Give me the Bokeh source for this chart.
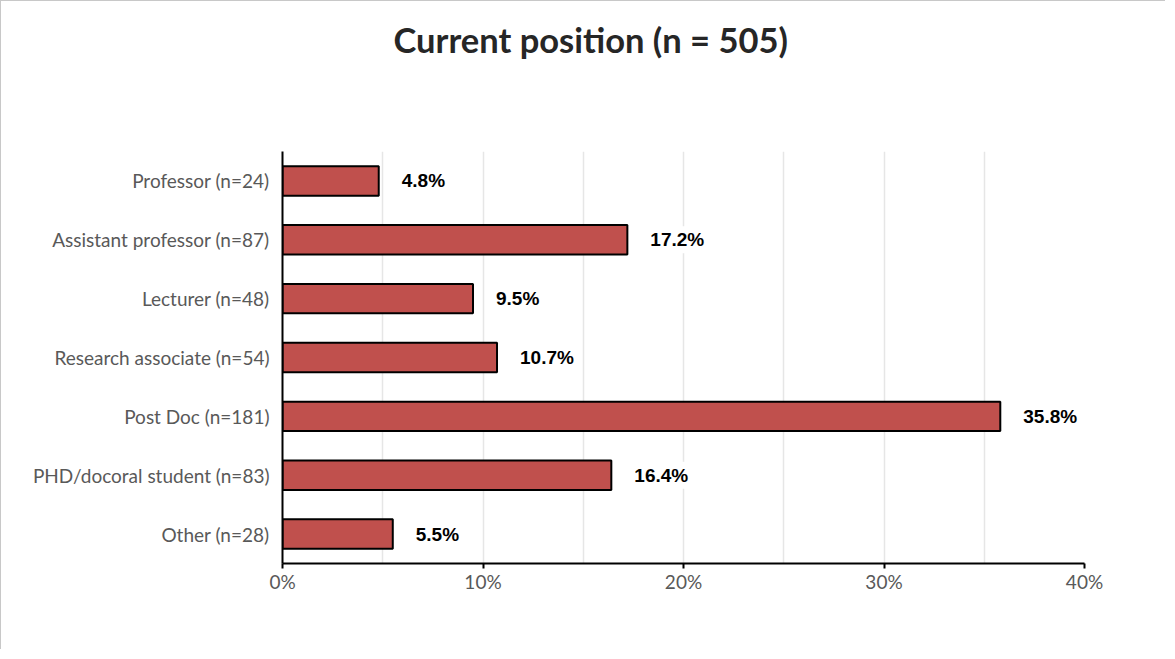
from bokeh.plotting import figure
from bokeh.models import FixedTicker, ColumnDataSource, Title
from bokeh.core.properties import value
from bokeh.embed import file_html
from bokeh.resources import INLINE

categories = ["Professor (n=24)", "Assistant professor (n=87)", "Lecturer (n=48)",
              "Research associate (n=54)", "Post Doc (n=181)",
              "PHD/docoral student (n=83)", "Other (n=28)"]
percent = [4.8, 17.2, 9.5, 10.7, 35.8, 16.4, 5.5]
x_ticks = [0, 10, 20, 30, 40]
x_tick_labels = ["0%", "10%", "20%", "30%", "40%"]
title_text = "Current position (n = 505)"

n = len(categories)
ypos = [n - 1 - i for i in range(n)]
src = ColumnDataSource(dict(y=ypos, v=percent, lab=[f"{v:.1f}%" for v in percent]))

W, H = 1165, 649
p = figure(width=W, height=H, output_backend="svg", toolbar_location=None,
           x_range=(0, 40), y_range=(-0.5, 6.5),
           min_border_left=281, min_border_right=W - 281 - 802,
           min_border_top=150, min_border_bottom=H - 150 - 412)
p.outline_line_color = None
p.background_fill_color = "white"
p.border_fill_color = "white"
p.styles = {"border-left": "1px solid #c8c8c8", "border-top": "1px solid #c8c8c8"}

p.title.text = title_text
p.title.align = "left"
p.title.vertical_align = "top"
p.title.offset = 111
p.title.standoff = 30
p.title.text_font = "Lato"
p.title.text_font_style = "bold"
p.title.text_font_size = "34.5px"
p.title.text_color = "#262626"

# empty spacer between title and plot area
p.add_layout(Title(text=" ", text_font_size="10px", standoff=62), "above")

p.hbar(y="y", left=0, right="v", height=0.5, source=src,
       fill_color="#c0504d", line_color="black", line_width=2)
p.text(x="v", y="y", text="lab", source=src, x_offset=20,
       text_baseline="middle", text_align="left",
       text_font=value("Liberation Sans"), text_font_style="bold",
       text_font_size="19px", text_color="black",
       background_fill_color="white", padding=3)

# x axis
xa = p.xaxis[0]
xa.ticker = FixedTicker(ticks=x_ticks)
xa.major_label_overrides = {t: l for t, l in zip(x_ticks, x_tick_labels)}
xa.axis_line_color = "black"
xa.axis_line_width = 2
xa.major_tick_line_color = "black"
xa.major_tick_line_width = 2
xa.major_tick_in = 0
xa.major_tick_out = 5
xa.minor_tick_line_color = None
xa.major_label_text_font = "Lato"
xa.major_label_text_font_size = "19px"
xa.major_label_text_color = "#595959"
xa.major_label_standoff = 1

# y axis
ya = p.yaxis[0]
ya.ticker = FixedTicker(ticks=ypos)
ya.major_label_overrides = {yy: c for yy, c in zip(ypos, categories)}
ya.axis_line_color = "black"
ya.axis_line_width = 2
ya.major_tick_line_color = None
ya.minor_tick_line_color = None
ya.major_label_text_font = "Lato"
ya.major_label_text_font_size = "19px"
ya.major_label_text_color = "#595959"
ya.major_label_standoff = 7

p.xgrid.ticker = FixedTicker(ticks=[5, 10, 15, 20, 25, 30, 35, 40])
p.xgrid.grid_line_color = "#e6e6e6"
p.xgrid.grid_line_width = 1.5
p.ygrid.grid_line_color = None

open("out.html", "w").write(file_html(p, INLINE))
